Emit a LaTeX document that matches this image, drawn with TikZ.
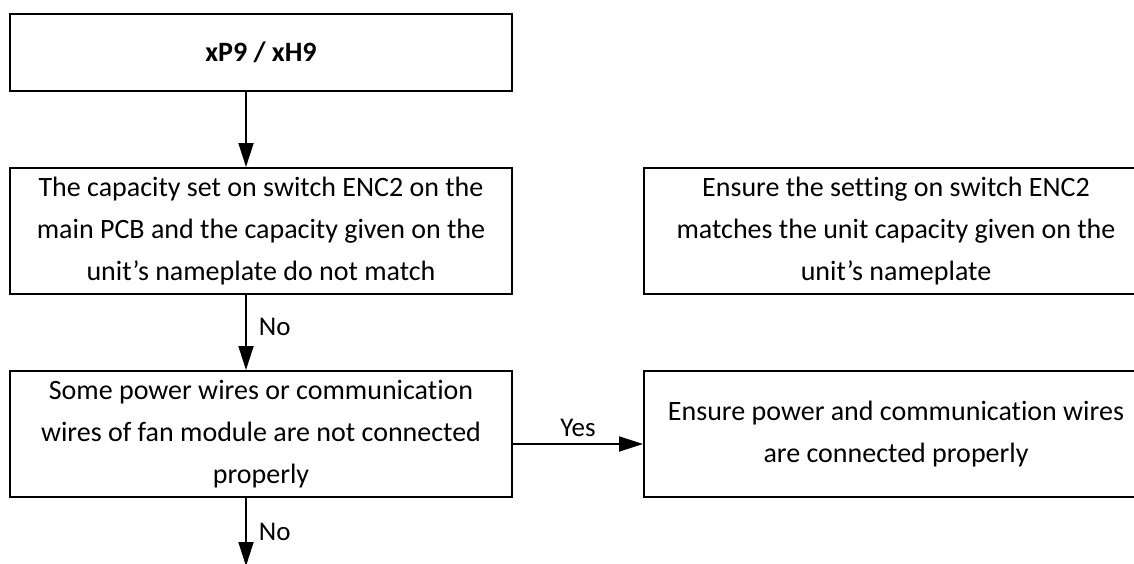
\documentclass[tikz,border=0pt]{standalone}
\usepackage{fontspec}
\setmainfont{Carlito}[Ligatures=NoCommon]
\usetikzlibrary{arrows.meta}
\tikzset{
  box/.style={draw, line width=2pt, align=center, inner sep=0pt, font=\fontsize{28}{42}\selectfont},
  conn/.style={line width=1.8pt, -{Triangle[width=15pt,length=24pt]}},
  lbl/.style={font=\fontsize{27}{30}\selectfont, inner sep=0pt}
}
\begin{document}
\begin{tikzpicture}[x=1pt,y=-1pt]
\useasboundingbox (0,0) rectangle (1134,563);
\clip (0,0) rectangle (1134,563);
\node[box, minimum width=502pt, minimum height=77pt, font=\fontsize{28}{42}\selectfont\bfseries] (a) at (261,52.5) {xP9 / xH9};
\node[box, minimum width=502pt, minimum height=126pt] (b) at (261,231) {The capacity set on switch ENC2 on the\\main PCB and the capacity given on the\\unit’s nameplate do not match};
\node[box, minimum width=502pt, minimum height=126pt] (c) at (261,434) {Some power wires or communication\\wires of fan module are not connected\\properly};
\node[box, minimum width=504pt, minimum height=126pt] (d) at (896,231) {Ensure the setting on switch ENC2\\matches the unit capacity given on the\\unit’s nameplate};
\node[box, minimum width=504pt, minimum height=126pt] (e) at (896,434) {Ensure power and communication wires\\are connected properly};
\coordinate (ax) at (246,0);
\coordinate (ay) at (0,444);
\coordinate (end) at (246,566);
\draw[conn] (a.south -| ax) -- (b.north -| ax);
\draw[conn] (b.south -| ax) -- node[lbl, right=12pt, pos=0.42] {No} (c.north -| ax);
\draw[conn] (c.east |- ay) -- node[lbl, above=6pt, pos=0.5] {Yes} (e.west |- ay);
\draw[conn] (c.south -| ax) -- node[lbl, right=12pt, pos=0.5] {No} (end);
\end{tikzpicture}
\end{document}
